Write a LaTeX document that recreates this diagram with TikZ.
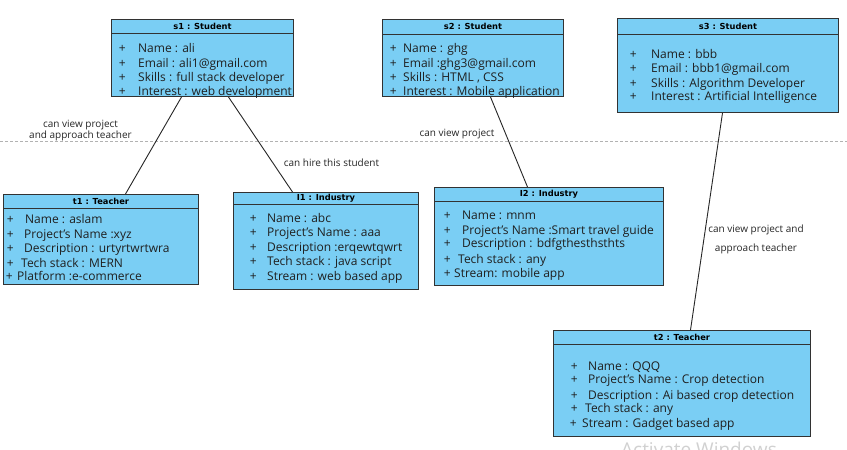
\documentclass[tikz,border=0pt]{standalone}
\usepackage{fontspec}
\setmainfont{Open Sans}
\newfontfamily\hdrfont{DejaVu Sans}
\definecolor{clsfill}{RGB}{122,206,244}
\definecolor{clsline}{RGB}{50,50,50}
\tikzset{
  cls/.style={draw=clsline, line width=1pt, fill=clsfill, anchor=north west, inner sep=0pt},
  hdr/.style={font=\hdrfont\bfseries\fontsize{8.3}{10}\selectfont, text=black, inner sep=0pt},
  attr/.style={font=\fontsize{12}{14}\selectfont, text=black!88, anchor=west, inner sep=0pt, text height=9pt, text depth=0.5pt},
  lbl/.style={font=\fontsize{10}{11}\selectfont, text=black!85, inner sep=0pt},
  conn/.style={draw=black!85, line width=0.9pt},
  pagebreak/.style={draw=black!30, dash pattern=on 3pt off 2pt, line width=0.8pt},
}
\newcommand\clsbox[7]{%
  \node[cls, minimum width={(#4-#2)*1pt}, minimum height={(#5-#3)*1pt}] (#1) at (#2,#3) {};
  \draw[draw=clsline, line width=1pt] ([yshift=-#6pt]#1.north west) -- ([yshift=-#6pt]#1.north east);
  \node[hdr] (#1-title) at ([yshift=-#6pt/2]#1.north) {#7};
}
\newcommand\attr[5]{%
  \node[attr] (#1) at (#2-3.4,#4) {\makebox[\dimexpr #3pt-#2pt+3.4pt\relax][l]{+}#5};
}
\begin{document}
\begin{tikzpicture}[x=1pt,y=-1pt]
\fill[white] (0,0) rectangle (847,450);
\useasboundingbox (0,0) rectangle (847,450);
\coordinate (pbL) at (0,141);
\coordinate (pbR) at (847,141);
\draw[pagebreak] (pbL) -- (pbR);

\clsbox{s1}{111}{19}{293}{96}{14}{s1 : Student}
\clsbox{s2}{382}{19}{563}{96}{15}{s2 : Student}
\clsbox{s3}{617}{18}{838}{112}{16}{s3 : Student}
\clsbox{t1}{3}{194}{198}{284}{14}{t1 : Teacher}
\clsbox{i1}{233}{192}{418}{289}{12}{I1 : Industry}
\clsbox{i2}{434}{187}{663}{285}{14}{I2 : Industry}
\clsbox{t2}{553}{330}{810}{436}{14}{t2 : Teacher}

\attr{s1a}{122}{138}{48}{Name : ali}
\attr{s1b}{122}{138}{63}{Email : ali1@gmail.com}
\attr{s1c}{122}{138}{77}{Skills : full stack developer}
\attr{s1d}{122}{138}{91}{Interest : web development}

\attr{s2a}{393}{403}{48}{Name : ghg}
\attr{s2b}{393}{403}{63}{Email :ghg3@gmail.com}
\attr{s2c}{393}{403}{77}{Skills : HTML , CSS}
\attr{s2d}{393}{403}{91}{Interest : Mobile application}

\attr{s3a}{633}{651}{54}{Name : bbb}
\attr{s3b}{633}{651}{68}{Email : bbb1@gmail.com}
\attr{s3c}{633}{651}{83}{Skills : Algorithm Developer}
\attr{s3d}{633}{651}{96}{Interest : Artificial Intelligence}

\attr{t1a}{10}{25}{219}{Name : aslam}
\attr{t1b}{10}{24}{234}{Project's Name :xyz}
\attr{t1c}{10}{24}{248}{Description : urtyrtwrtwra}
\attr{t1d}{10}{21}{263}{Tech stack : MERN}
\attr{t1e}{9}{17}{276}{Platform :e-commerce}

\attr{i1a}{253}{267}{218}{Name : abc}
\attr{i1b}{253}{267}{232}{Project's Name : aaa}
\attr{i1c}{253}{267}{247}{Description :erqewtqwrt}
\attr{i1d}{253}{267}{261}{Tech stack : java script}
\attr{i1e}{253}{267}{276}{Stream : web based app}

\attr{i2a}{447}{462}{215}{Name : mnm}
\attr{i2b}{447}{462}{230}{Project's Name :Smart travel guide}
\attr{i2c}{447}{462}{243}{Description : bdfgthesthsthts}
\attr{i2d}{447}{458}{259}{Tech stack : any}
\attr{i2e}{447}{454}{273}{Stream: mobile app}

\attr{t2a}{574}{588}{366}{Name : QQQ}
\attr{t2b}{574}{588}{379}{Project's Name : Crop detection}
\attr{t2c}{574}{588}{395}{Description : Ai based crop detection}
\attr{t2d}{574}{585}{408}{Tech stack : any}
\attr{t2e}{573}{582}{423}{Stream : Gadget based app}

\draw[conn] ([xshift=-21pt]s1.south) -- ([xshift=24.5pt]t1.north);
\draw[conn] ([xshift=26pt]s1.south) -- ([xshift=-33.5pt]i1.north);
\draw[conn] ([xshift=17.5pt]s2.south) -- ([xshift=-21.5pt]i2.north);
\draw[conn] ([xshift=-5.5pt]s3.south) -- ([xshift=8.5pt]t2.north);

\node[lbl, align=center] (l1) at (80.5,130.5) {can view project\\and approach teacher};
\node[lbl] (l2) at (331.5,163) {can hire this student};
\node[lbl] (l3) at (457,134) {can view project};
\node[lbl, align=center] (l4) at (756,239.5) {can view project and\\[8pt]approach teacher};

\node[font=\fontsize{19}{22}\selectfont, text=black!18, anchor=base west, inner sep=0pt] (wm) at (621,456) {Activate Windows};
\end{tikzpicture}
\end{document}
